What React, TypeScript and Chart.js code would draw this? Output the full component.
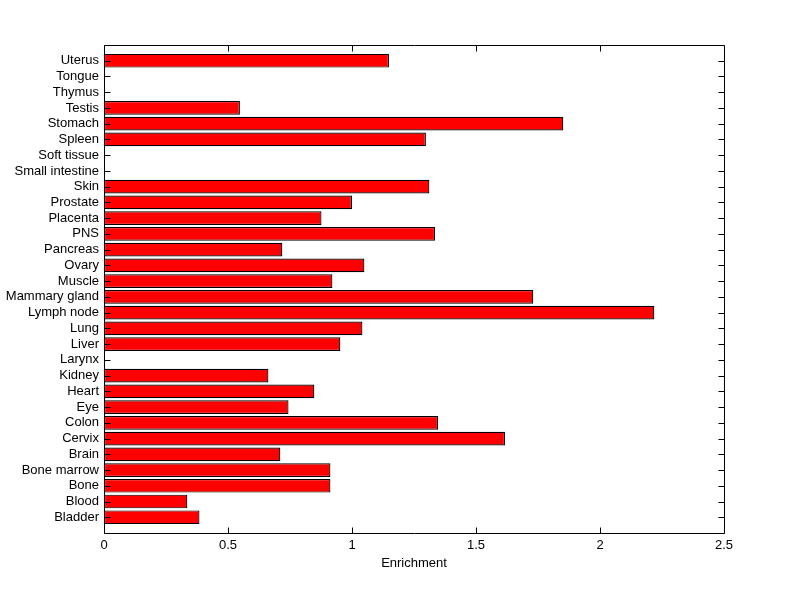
import React, { useEffect, useRef } from "react";
import { Chart, registerables } from "chart.js";

Chart.register(...registerables);

// Categories from bottom (1) to top (30)
const categories = [
  "Bladder", "Blood", "Bone", "Bone marrow", "Brain", "Cervix", "Colon", "Eye",
  "Heart", "Kidney", "Larynx", "Liver", "Lung", "Lymph node", "Mammary gland",
  "Muscle", "Ovary", "Pancreas", "PNS", "Placenta", "Prostate", "Skin",
  "Small intestine", "Soft tissue", "Spleen", "Stomach", "Testis", "Thymus",
  "Tongue", "Uterus",
];

const enrichment: (number | null)[] = [
  0.385, 0.336, 0.913, 0.913, 0.711, 1.617, 1.347, 0.744,
  0.848, 0.663, null, 0.953, 1.042, 2.219, 1.731,
  0.921, 1.05, 0.719, 1.335, 0.877, 1.0, 1.312,
  null, null, 1.298, 1.852, 0.548, null,
  null, 1.149,
];

const xTicks = [0, 0.5, 1, 1.5, 2, 2.5];
const xTitle = "Enrichment";

const FONT = "'Liberation Sans', Arial, Helvetica, sans-serif";

const boxPlugin = {
  id: "matlabBox",
  afterDraw(chart: any) {
    const { ctx, chartArea } = chart;
    const xs = chart.scales.x;
    const ys = chart.scales.y;
    const L = Math.round(chartArea.left) + 0.5;
    const R = Math.round(chartArea.right) + 0.5;
    const T = Math.round(chartArea.top) + 0.5;
    const B = Math.round(chartArea.bottom) + 0.5;
    const len = 6;
    ctx.save();
    ctx.strokeStyle = "#000";
    ctx.lineWidth = 1;
    ctx.beginPath();
    ctx.rect(L, T, R - L, B - T);
    for (const v of xTicks) {
      const px = Math.round(xs.getPixelForValue(v)) + 0.5;
      ctx.moveTo(px, B);
      ctx.lineTo(px, B - len);
      ctx.moveTo(px, T);
      ctx.lineTo(px, T + len);
    }
    categories.forEach((_, i) => {
      const py = Math.round(ys.getPixelForValue(i + 1)) + 0.5;
      ctx.moveTo(L, py);
      ctx.lineTo(L + len, py);
      ctx.moveTo(R, py);
      ctx.lineTo(R - len, py);
    });
    ctx.stroke();
    ctx.restore();
  },
};

export default function App() {
  const ref = useRef<HTMLCanvasElement>(null);
  useEffect(() => {
    if (!ref.current) return;
    const data = categories.map((c, i) => ({ y: i + 1, x: enrichment[i] }));
    const chart = new Chart(ref.current, {
      type: "bar",
      data: {
        datasets: [
          {
            label: xTitle,
            data: data as any,
            backgroundColor: "#ff0000",
            borderColor: "#000000",
            borderWidth: 1.2,
            borderSkipped: false,
            barPercentage: 0.87,
            categoryPercentage: 1,
          },
        ],
      },
      plugins: [boxPlugin],
      options: {
        indexAxis: "y",
        animation: false,
        responsive: false,
        maintainAspectRatio: false,
        layout: { padding: { top: 45, right: 76, left: 0, bottom: 0 } },
        plugins: { legend: { display: false }, tooltip: { enabled: false } },
        scales: {
          x: {
            type: "linear",
            min: 0,
            max: 2.5,
            afterBuildTicks: (s: any) => {
              s.ticks = xTicks.map((v) => ({ value: v }));
            },
            afterFit: (s: any) => {
              s.height = 66;
            },
            grid: { display: false, drawTicks: false },
            border: { display: false },
            ticks: {
              padding: 5,
              color: "#000",
              font: { family: FONT, size: 13 },
              maxRotation: 0,
              callback: (v: any) => String(v),
            },
            title: {
              display: true,
              text: xTitle,
              color: "#000",
              font: { family: FONT, size: 13 },
              padding: { top: 0, bottom: 28 },
            },
          },
          y: {
            type: "linear",
            offset: false,
            min: 0,
            max: 31,
            afterBuildTicks: (s: any) => {
              s.ticks = categories.map((_, i) => ({ value: i + 1 }));
            },
            afterFit: (s: any) => {
              s.width = 104;
            },
            grid: { display: false, drawTicks: false, offset: false },
            border: { display: false },
            ticks: {
              padding: 5,
              autoSkip: false,
              color: "#000",
              font: { family: FONT, size: 13 },
              callback: (v: any) => categories[Math.round(v) - 1] ?? "",
            },
          },
        },
      },
    });
    return () => chart.destroy();
  }, []);
  return (
    <div style={{ position: "fixed", left: 0, top: 0, width: 800, height: 599, background: "#fff" }}>
      <canvas ref={ref} width={800} height={599} style={{ width: 800, height: 599 }} />
    </div>
  );
}
